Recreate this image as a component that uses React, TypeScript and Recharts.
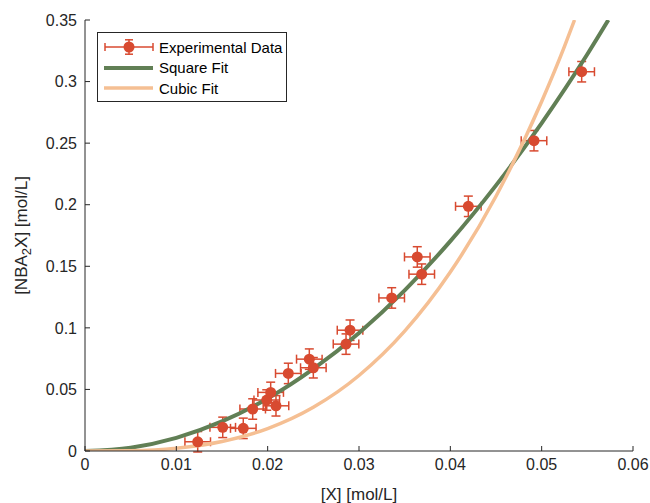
import React from "react";
import {
  ComposedChart,
  Scatter,
  Line,
  XAxis,
  YAxis,
  ErrorBar,
  Legend,
  Label,
} from "recharts";

// experimental points
const expX = [
  0.01234, 0.01508, 0.01733, 0.01836, 0.0199, 0.02033, 0.02091, 0.02226, 0.02456,
  0.025, 0.02858, 0.02902, 0.03358, 0.03638, 0.03687, 0.04197, 0.04916, 0.05438,
];
const expY = [
  0.0075, 0.0192, 0.0184, 0.0341, 0.0414, 0.0476, 0.0367, 0.063, 0.0746,
  0.0676, 0.0868, 0.0981, 0.1243, 0.1576, 0.1436, 0.1987, 0.252, 0.308,
];
const X_ERR = 0.0014;
const Y_ERR = 0.0083;

// fitted curves sampled along x
const squareX = [0, 0.005, 0.01, 0.015, 0.02, 0.025, 0.03, 0.035, 0.04, 0.045, 0.05, 0.055, 0.0573];
const squareY = [0, 0.0027, 0.0107, 0.024, 0.0426, 0.0666, 0.0959, 0.1305, 0.1704, 0.2157, 0.2663, 0.3222, 0.35];
const cubicX = [0, 0.005, 0.01, 0.015, 0.02, 0.025, 0.03, 0.035, 0.04, 0.045, 0.05, 0.0525, 0.0536];
const cubicY = [0, 0.0003, 0.0023, 0.0077, 0.0182, 0.0355, 0.0613, 0.0973, 0.1453, 0.2069, 0.2838, 0.3285, 0.35];

const xTicks = [0, 0.01, 0.02, 0.03, 0.04, 0.05, 0.06];
const yTicks = [0, 0.05, 0.1, 0.15, 0.2, 0.25, 0.3, 0.35];

const RED = "#D84A30";
const GREEN = "#617F55";
const ORANGE = "#F5BF93";
const AXIS = "#262626";
const FONT = "'Liberation Sans', Arial, sans-serif";

const expData = expX.map((x, i) => ({ x, y: expY[i], xErr: X_ERR, yErr: Y_ERR }));
const squareData = squareX.map((x, i) => ({ x, y: squareY[i] }));
const cubicData = cubicX.map((x, i) => ({ x, y: cubicY[i] }));

function Dot(props: any) {
  const { cx, cy } = props;
  if (cx == null || cy == null) return null;
  return <circle cx={cx} cy={cy} r={5.5} fill={RED} />;
}

// top/right axes only show their inward tick marks
const noLabel = () => <g />;

function LegendBox() {
  const row = { display: "flex", alignItems: "center", height: 20.5, whiteSpace: "nowrap" } as const;
  const text = { marginLeft: 1, fontSize: 15, color: "#000", whiteSpace: "nowrap" } as const;
  return (
    <div
      style={{
        width: 188,
        height: 64,
        border: `1px solid ${AXIS}`,
        background: "#fff",
        fontFamily: FONT,
        paddingTop: 4,
        boxSizing: "content-box",
      }}
    >
      <div style={row}>
        <svg width={60} height={16}>
          <line x1={7} x2={55} y1={8} y2={8} stroke={RED} strokeWidth={1.5} />
          <line x1={7} x2={7} y1={4} y2={12} stroke={RED} strokeWidth={1.5} />
          <line x1={55} x2={55} y1={4} y2={12} stroke={RED} strokeWidth={1.5} />
          <line x1={31} x2={31} y1={0} y2={16} stroke={RED} strokeWidth={1.5} />
          <line x1={27} x2={35} y1={0.8} y2={0.8} stroke={RED} strokeWidth={1.5} />
          <line x1={27} x2={35} y1={15.2} y2={15.2} stroke={RED} strokeWidth={1.5} />
          <circle cx={31} cy={8} r={5.5} fill={RED} />
        </svg>
        <span style={text}>Experimental Data</span>
      </div>
      <div style={row}>
        <svg width={60} height={16}>
          <line x1={6} x2={55} y1={8} y2={8} stroke={GREEN} strokeWidth={4} />
        </svg>
        <span style={text}>Square Fit</span>
      </div>
      <div style={row}>
        <svg width={60} height={16}>
          <line x1={6} x2={55} y1={8} y2={8} stroke={ORANGE} strokeWidth={3.5} />
        </svg>
        <span style={text}>Cubic Fit</span>
      </div>
    </div>
  );
}

function YLabel(props: any) {
  const { viewBox } = props;
  const cx = 21;
  const cy = viewBox.y + viewBox.height / 2;
  return (
    <text
      x={cx}
      y={cy}
      transform={`rotate(-90, ${cx}, ${cy})`}
      textAnchor="middle"
      dominantBaseline="central"
      fontSize={17}
      fontFamily={FONT}
      fill={AXIS}
    >
      [NBA
      <tspan dy={5} fontSize={13}>2</tspan>
      <tspan dy={-5}>X] [mol/L]</tspan>
    </text>
  );
}

export default function App() {
  const tickStyle = { fontSize: 16, fill: AXIS, fontFamily: FONT };
  return (
    <div style={{ position: "absolute", left: 0, top: 0, width: 650, height: 503, background: "#fff" }}>
      <ComposedChart width={650} height={503} margin={{ top: 20, right: 17, left: 0, bottom: 0 }}>
        <XAxis
          xAxisId="b"
          dataKey="x"
          type="number"
          domain={[0, 0.06]}
          ticks={xTicks}
          allowDataOverflow
          height={52}
          tickSize={-5}
          tickMargin={13}
          stroke={AXIS}
          tick={tickStyle}
        >
          <Label
            value="[X] [mol/L]"
            position="insideBottom"
            offset={3}
            style={{ fontSize: 17, fill: AXIS, fontFamily: FONT }}
          />
        </XAxis>
        <XAxis
          xAxisId="t"
          dataKey="x"
          type="number"
          orientation="top"
          domain={[0, 0.06]}
          ticks={xTicks}
          allowDataOverflow
          height={0}
          tickSize={-5}
          tick={noLabel}
          stroke={AXIS}
        />
        <YAxis
          yAxisId="l"
          dataKey="y"
          type="number"
          domain={[0, 0.35]}
          ticks={yTicks}
          allowDataOverflow
          width={85}
          tickSize={-5}
          tickMargin={13}
          stroke={AXIS}
          tick={tickStyle}
          label={<YLabel />}
        />
        <YAxis
          yAxisId="r"
          dataKey="y"
          type="number"
          orientation="right"
          domain={[0, 0.35]}
          ticks={yTicks}
          allowDataOverflow
          width={0}
          tickSize={-5}
          tick={noLabel}
          stroke={AXIS}
        />
        <Scatter
          xAxisId="b"
          yAxisId="l"
          data={expData}
          dataKey="y"
          shape={<Dot />}
          isAnimationActive={false}
        >
          <ErrorBar dataKey="xErr" direction="x" width={4.5} stroke={RED} strokeWidth={1.5} />
          <ErrorBar dataKey="yErr" direction="y" width={4.5} stroke={RED} strokeWidth={1.5} />
        </Scatter>
        <Line
          xAxisId="b"
          yAxisId="l"
          data={squareData}
          dataKey="y"
          type="monotone"
          stroke={GREEN}
          strokeWidth={4}
          dot={false}
          activeDot={false}
          isAnimationActive={false}
        />
        <Line
          xAxisId="b"
          yAxisId="l"
          data={cubicData}
          dataKey="y"
          type="monotone"
          stroke={ORANGE}
          strokeWidth={3.5}
          dot={false}
          activeDot={false}
          isAnimationActive={false}
        />
        <Legend
          layout="vertical"
          align="center"
          verticalAlign="middle"
          content={<LegendBox />}
          wrapperStyle={{ position: "absolute", left: 97, top: 32, width: 190 }}
        />
      </ComposedChart>
    </div>
  );
}
